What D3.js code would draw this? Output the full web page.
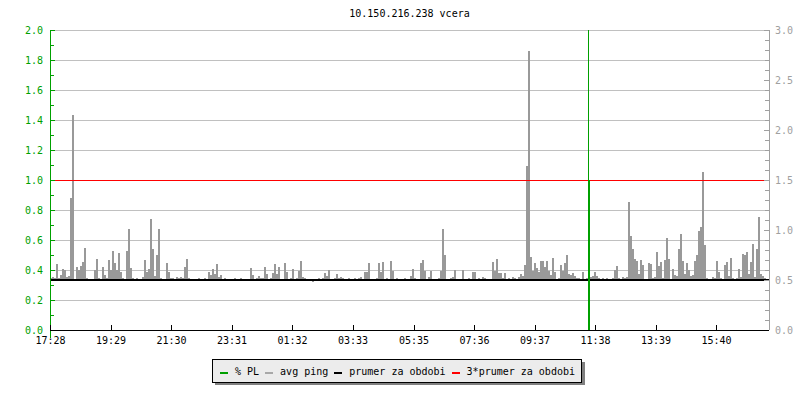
<!DOCTYPE html>
<html>
<head>
<meta charset="utf-8">
<title>10.150.216.238 vcera</title>
<script src="https://cdnjs.cloudflare.com/ajax/libs/d3/7.8.5/d3.min.js"></script>
<style>
  body { margin: 0; background: #fff; }
  text { font-family: "DejaVu Sans Mono", monospace; font-size: 10px; }
</style>
</head>
<body>
<div id="chart"></div>
<script>

var title = '10.150.216.238 vcera';
var startLabel = '17:28';
var spanMinutes = 1438;
var stepMinutes = 4;   // one ping sample every 4 minutes

var timeTicks = ['17:28', '19:29', '21:30', '23:31', '01:32', '03:33',
                 '05:35', '07:36', '09:37', '11:38', '13:39', '15:40'];
var plTicks = [0, 0.2, 0.4, 0.6, 0.8, 1.0, 1.2, 1.4, 1.6, 1.8, 2.0];
var pingTicks = [0, 0.5, 1.0, 1.5, 2.0, 2.5, 3.0];

// avg ping, ms
var pingValues = [
  0.52,0.53,0.52,0.66,0.52,0.55,0.61,0.60,0.53,0.54,1.32,2.15,0.51,0.63,0.60,0.64,0.68,0.82,0.52,0.51,
  0.51,0.51,0.60,0.71,0.52,0.51,0.63,0.55,0.52,0.70,0.60,0.79,0.67,0.60,0.77,0.58,0.52,0.51,0.79,1.01,
  0.62,0.52,0.51,0.52,0.49,0.51,0.53,0.70,0.58,0.61,1.11,0.81,0.54,0.75,1.01,0.52,0.51,0.51,0.67,0.58,
  0.52,0.52,0.51,0.53,0.52,0.53,0.52,0.63,0.71,0.52,0.51,0.49,0.51,0.51,0.52,0.51,0.51,0.52,0.51,0.58,
  0.55,0.61,0.56,0.66,0.53,0.55,0.51,0.52,0.51,0.51,0.51,0.51,0.52,0.50,0.51,0.52,0.51,0.49,0.51,0.51,
  0.62,0.55,0.51,0.52,0.54,0.52,0.52,0.63,0.56,0.51,0.52,0.57,0.66,0.56,0.63,0.49,0.49,0.67,0.58,0.51,
  0.52,0.61,0.51,0.52,0.59,0.69,0.53,0.52,0.49,0.49,0.51,0.48,0.50,0.51,0.52,0.51,0.52,0.57,0.54,0.60,
  0.51,0.51,0.52,0.56,0.52,0.53,0.52,0.51,0.51,0.52,0.50,0.51,0.52,0.51,0.52,0.53,0.51,0.58,0.58,0.67,
  0.49,0.51,0.49,0.52,0.67,0.58,0.68,0.51,0.52,0.51,0.69,0.59,0.51,0.52,0.51,0.49,0.51,0.52,0.51,0.49,
  0.54,0.61,0.52,0.51,0.51,0.67,0.70,0.59,0.51,0.53,0.59,0.51,0.51,0.51,0.52,0.59,1.01,0.75,0.51,0.51,
  0.52,0.53,0.60,0.49,0.49,0.51,0.60,0.51,0.51,0.52,0.51,0.58,0.58,0.51,0.52,0.51,0.53,0.52,0.50,0.49,
  0.51,0.68,0.59,0.71,0.57,0.57,0.52,0.57,0.51,0.52,0.51,0.53,0.52,0.51,0.53,0.56,0.54,0.65,1.64,2.79,
  0.73,0.59,0.67,0.62,0.58,0.69,0.69,0.63,0.69,0.59,0.55,0.72,0.58,0.51,0.52,0.65,0.59,0.67,0.75,0.56,
  0.55,0.57,0.54,0.52,0.52,0.51,0.58,0.51,0.52,0.51,0.53,0.54,0.58,0.54,0.52,0.51,0.52,0.51,0.52,0.51,
  0.51,0.52,0.60,0.64,0.52,0.51,0.53,0.52,0.53,1.28,0.94,0.81,0.71,0.69,0.56,0.70,0.65,0.49,0.49,0.67,
  0.66,0.52,0.53,0.78,0.64,0.68,0.52,0.70,0.92,0.71,0.51,0.61,0.55,0.54,0.81,0.96,0.69,0.56,0.67,0.60,
  0.54,0.55,0.69,0.75,0.99,1.03,1.58,0.85,0.52,0.51,0.51,0.53,0.52,0.69,0.58,0.52,0.51,0.65,0.68,0.54,
  0.72,0.52,0.51,0.52,0.61,0.53,0.76,0.75,0.78,0.56,0.68,0.86,0.53,0.81,1.13,0.56,0.54,0.52,0.51,0.51
];
var avgPing = 0.5;

// packet loss, %
var plTimes = ['11:20', '11:24', '11:26', '11:28'];
var plValues = [0, 100, 1.0, 0];

var legendLabels = ['% PL', 'avg ping', 'prumer za obdobi', '3*prumer za obdobi'];

var colors = { pl: '#00a000', ping: '#999999', avg: '#000000', avg3: '#ff0000' };
var legendColors = [colors.pl, '#a8a8a8', colors.avg, colors.avg3];

var W = 800, H = 400;
var plotL = 50, plotR = 769, plotT = 30, plotB = 330;

var svg = d3.select('#chart').append('svg')
  .attr('width', W).attr('height', H);

var startParts = startLabel.split(':');
var base = new Date(2013, 4, 14, +startParts[0], +startParts[1]);
function offsetOf(label) {
  var p = label.split(':');
  var m = (+p[0] * 60 + +p[1]) - (+startParts[0] * 60 + +startParts[1]);
  return m < 0 ? m + 1440 : m;
}
function dateAt(m) { return d3.timeMinute.offset(base, m); }

var x = d3.scaleTime().domain([base, dateAt(spanMinutes)]).range([plotL, plotR]);
var yPL = d3.scaleLinear().domain([0, 2]).range([plotB, plotT]);
var yPing = d3.scaleLinear().domain([0, 3]).range([plotB, plotT]);

svg.append('defs').append('clipPath').attr('id', 'plot')
  .append('rect').attr('x', plotL).attr('y', plotT)
  .attr('width', plotR - plotL).attr('height', plotB - plotT);

// title
svg.append('text')
  .attr('x', (plotL + plotR) / 2).attr('y', 17)
  .attr('text-anchor', 'middle')
  .text(title);

// grid
svg.append('g').selectAll('line')
  .data(plTicks.filter(function(d) { return d > 0; }))
  .enter().append('line')
  .attr('x1', plotL).attr('x2', plotR)
  .attr('y1', function(d) { return yPL(d); })
  .attr('y2', function(d) { return yPL(d); })
  .attr('stroke', '#c0c0c0')
  .attr('shape-rendering', 'crispEdges');

// ping, drawn as deviation from the period average
var pingData = pingValues.map(function(v, i) { return { t: dateAt(i * stepMinutes), v: v }; });
var pingArea = d3.area()
  .x(function(d) { return x(d.t); })
  .y0(yPing(avgPing))
  .y1(function(d) { return yPing(d.v); })
  .curve(d3.curveStepAfter);

svg.append('path')
  .datum(pingData)
  .attr('d', pingArea)
  .attr('fill', colors.ping)
  .attr('shape-rendering', 'crispEdges');

// average and 3*average
svg.append('line')
  .attr('x1', plotL).attr('x2', plotR)
  .attr('y1', yPing(avgPing)).attr('y2', yPing(avgPing))
  .attr('stroke', colors.avg).attr('stroke-width', 2)
  .attr('shape-rendering', 'crispEdges');

svg.append('line')
  .attr('x1', plotL).attr('x2', plotR)
  .attr('y1', yPing(3 * avgPing)).attr('y2', yPing(3 * avgPing))
  .attr('stroke', colors.avg3)
  .attr('shape-rendering', 'crispEdges');

// packet loss
var plData = plTimes.map(function(t, i) { return { t: dateAt(offsetOf(t)), v: plValues[i] }; });
var plArea = d3.area()
  .x(function(d) { return x(d.t); })
  .y0(yPL(0))
  .y1(function(d) { return yPL(d.v); })
  .curve(d3.curveStepAfter);

svg.append('path')
  .datum(plData)
  .attr('d', plArea)
  .attr('fill', colors.pl)
  .attr('clip-path', 'url(#plot)')
  .attr('shape-rendering', 'crispEdges');

// left axis (% PL)
var minorPL = d3.range(1, 20, 2).map(function(d) { return d / 10; });
var gl = svg.append('g').attr('transform', 'translate(' + plotL + ',0)');
gl.call(d3.axisLeft(yPL).tickValues(plTicks).tickSizeInner(-5).tickSizeOuter(0)
  .tickPadding(7).tickFormat(d3.format('.1f')));
gl.append('g').call(d3.axisLeft(yPL).tickValues(minorPL).tickSize(-4).tickFormat(''));
gl.selectAll('.domain').remove();
gl.selectAll('line').attr('stroke', colors.pl).attr('shape-rendering', 'crispEdges');
gl.selectAll('text').attr('fill', colors.pl).attr('font-size', 10)
  .attr('font-family', '"DejaVu Sans Mono", monospace');
gl.append('line').attr('x1', 0).attr('x2', 0).attr('y1', plotT).attr('y2', plotB + 8)
  .attr('stroke', colors.pl).attr('shape-rendering', 'crispEdges');

// right axis (ping)
var minorPing = d3.range(0, 31).filter(function(d) { return d % 5; }).map(function(d) { return d / 10; });
var gr = svg.append('g').attr('transform', 'translate(' + plotR + ',0)');
gr.call(d3.axisRight(yPing).tickValues(pingTicks).tickSizeInner(-5).tickSizeOuter(0)
  .tickPadding(6).tickFormat(d3.format('.1f')));
gr.append('g').call(d3.axisRight(yPing).tickValues(minorPing).tickSize(-4).tickFormat(''));
gr.selectAll('.domain').remove();
gr.selectAll('line').attr('stroke', '#a0a0a0').attr('shape-rendering', 'crispEdges');
gr.selectAll('text').attr('fill', '#a0a0a0').attr('font-size', 10)
  .attr('font-family', '"DejaVu Sans Mono", monospace');
gr.append('line').attr('x1', 0).attr('x2', 0).attr('y1', plotT).attr('y2', plotB)
  .attr('stroke', '#a0a0a0').attr('shape-rendering', 'crispEdges');

// time axis
var gx = svg.append('g').attr('transform', 'translate(0,' + plotB + ')');
gx.call(d3.axisBottom(x)
  .tickValues(timeTicks.map(function(t) { return dateAt(offsetOf(t)); }))
  .tickSizeInner(-5).tickSizeOuter(0).tickPadding(7)
  .tickFormat(function(d, i) { return timeTicks[i]; }));
gx.selectAll('.domain').remove();
gx.selectAll('line').attr('stroke', '#000').attr('shape-rendering', 'crispEdges');
gx.selectAll('text').attr('fill', '#000').attr('font-size', 10)
  .attr('font-family', '"DejaVu Sans Mono", monospace');
gx.append('line').attr('x1', plotL).attr('x2', plotR).attr('y1', 0).attr('y2', 0)
  .attr('stroke', '#000').attr('shape-rendering', 'crispEdges');

// legend
var lg = svg.append('g');
var cx = 0;
var items = lg.selectAll('g.item').data(legendLabels).enter().append('g').attr('class', 'item');
items.each(function(d, i) {
  var g = d3.select(this);
  g.append('line').attr('x1', cx).attr('x2', cx + 8).attr('y1', 0).attr('y2', 0)
    .attr('stroke', legendColors[i]).attr('stroke-width', 2)
    .attr('shape-rendering', 'crispEdges');
  var t = g.append('text').attr('x', cx + 15).attr('y', 2).text(d);
  cx = cx + 15 + t.node().getComputedTextLength() + 6;
});
var boxW = cx - 6 + 15;
var boxX = 397 - boxW / 2;
lg.insert('rect', ':first-child').attr('x', -8).attr('y', -14).attr('width', boxW).attr('height', 23)
  .attr('fill', '#ececec').attr('stroke', '#000').attr('shape-rendering', 'crispEdges');
lg.insert('rect', ':first-child').attr('x', -5).attr('y', -11).attr('width', boxW).attr('height', 23)
  .attr('fill', '#808080').attr('shape-rendering', 'crispEdges');
lg.attr('transform', 'translate(' + Math.round(boxX + 8) + ',373)');

</script>
</body>
</html>
